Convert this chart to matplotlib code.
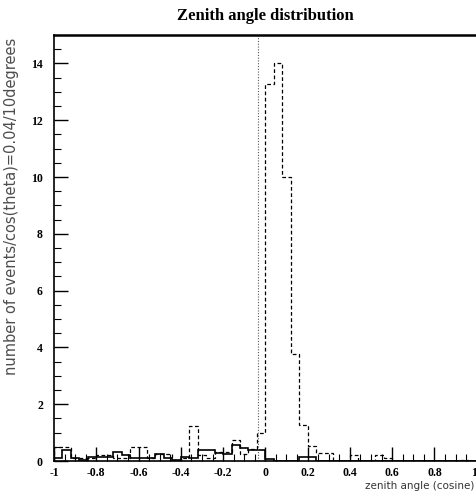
import numpy as np
import matplotlib
matplotlib.use("Agg")
import matplotlib.pyplot as plt
from matplotlib.ticker import MultipleLocator, FuncFormatter

plt.rcParams["axes.unicode_minus"] = False

# 50 bins of 0.04 in cos(theta), from -1 to 1
bin_width = 0.04
x_min, x_max = -1.0, 1.0

# dashed histogram
dashed_counts = [
    0.50, 0.50, 0.10, 0.10, 0.10, 0.20, 0.20, 0.10, 0.10, 0.50,
    0.50, 0.10, 0.25, 0.25, 0.05, 0.10, 1.25, 0.20, 0.10, 0.30,
    0.30, 0.75, 0.25, 0.43, 1.00, 13.27, 14.00, 10.00, 3.77, 1.27,
    0.54, 0.28, 0.28, 0.00, 0.00, 0.22, 0.00, 0.00, 0.20, 0.10,
    0.00, 0.00, 0.00, 0.00, 0.00, 0.00, 0.00, 0.00, 0.05, 0.00,
]

# solid histogram
solid_counts = [
    0.10, 0.40, 0.10, 0.05, 0.15, 0.15, 0.15, 0.30, 0.20, 0.10,
    0.10, 0.10, 0.25, 0.10, 0.05, 0.15, 0.10, 0.38, 0.38, 0.27,
    0.25, 0.57, 0.46, 0.40, 0.40, 0.08, 0.00, 0.00, 0.00, 0.15,
    0.15, 0.00, 0.00, 0.00, 0.00, 0.00, 0.00, 0.00, 0.00, 0.00,
    0.00, 0.00, 0.00, 0.00, 0.00, 0.00, 0.00, 0.00, 0.00, 0.00,
]

# dotted reference line
horizon_cos = -0.035

edges = np.linspace(x_min, x_max, len(solid_counts) + 1)

fig = plt.figure(figsize=(4.77, 4.93), dpi=100)
ax = fig.add_axes([0.1132, 0.0649, 0.8862, 0.864])

ax.stairs(dashed_counts, edges, color="black", linestyle=(0, (3, 2)), linewidth=0.9)
ax.stairs(solid_counts, edges, color="black", linestyle="-", linewidth=1.2)
ax.axvline(horizon_cos, color="0.35", linestyle=(0, (1, 1.5)), linewidth=0.8)

ax.set_xlim(x_min, x_max)
ax.set_ylim(0, 15)

ax.xaxis.set_major_locator(MultipleLocator(0.2))
ax.xaxis.set_minor_locator(MultipleLocator(0.05))
ax.yaxis.set_major_locator(MultipleLocator(2))
ax.yaxis.set_minor_locator(MultipleLocator(0.5))
ax.xaxis.set_major_formatter(FuncFormatter(lambda v, p: "%g" % round(v, 2)))
ax.yaxis.set_major_formatter(FuncFormatter(lambda v, p: "%g" % round(v, 2)))

ax.tick_params(which="both", direction="in", top=False, right=False, color="black")
ax.tick_params(which="major", length=10, width=1.0)
ax.tick_params(which="minor", length=5, width=0.8)
ax.tick_params(axis="x", pad=4)
ax.tick_params(axis="y", pad=8)

fig.canvas.draw()
for lab in ax.get_xticklabels() + ax.get_yticklabels():
    lab.set_family("Liberation Serif")
    lab.set_fontweight("bold")
    lab.set_fontsize(8.5)
# the label at x = 1 sits on the right edge of the figure
for tick in ax.xaxis.get_major_ticks():
    if abs(tick.get_loc() - x_max) < 1e-6:
        tick.label1.set_horizontalalignment("right")

for side in ["left", "bottom"]:
    ax.spines[side].set_linewidth(1.2)
ax.spines["top"].set_linewidth(1.8)
ax.spines["right"].set_linewidth(1.0)

fig.text(0.556, 0.968, "Zenith angle distribution", ha="center", va="center",
         family="Liberation Serif", fontweight="bold", fontsize=12)
fig.text(0.025, 0.581, "number of events/cos(theta)=0.04/10degrees", rotation=90,
         ha="center", va="center", fontsize=10.5, color="0.3")
fig.text(0.995, 0.004, "zenith angle (cosine)", ha="right", va="bottom",
         fontsize=7.5, color="0.2")

fig.savefig("out.png", dpi=100)
